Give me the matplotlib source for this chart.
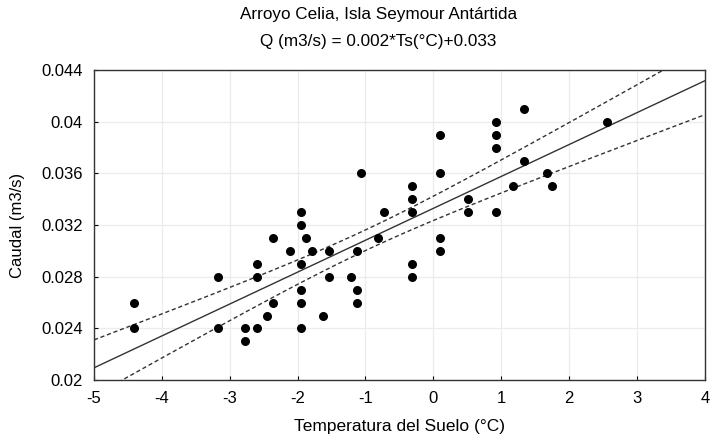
import numpy as np
import matplotlib
matplotlib.use("Agg")
import matplotlib.pyplot as plt

plt.rcParams['font.family'] = ['Liberation Sans', 'DejaVu Sans']

# Soil temperature (°C) and stream discharge (m3/s)
temperatura = [
    -4.41, -4.41,
    -3.18, -3.18,
    -2.77, -2.77,
    -2.60, -2.60, -2.60,
    -2.45,
    -2.36, -2.36,
    -2.11,
    -1.95, -1.95, -1.95, -1.95, -1.95, -1.95,
    -1.88, -1.79, -1.62,
    -1.54, -1.54,
    -1.22,
    -1.12, -1.12, -1.12,
    -1.06,
    -0.81, -0.72,
    -0.31, -0.31, -0.31, -0.31, -0.31,
    0.10, 0.10, 0.10, 0.10,
    0.51, 0.51,
    0.92, 0.92, 0.92, 0.92,
    1.17,
    1.33, 1.33,
    1.67, 1.75,
    2.56,
]
caudal = [
    0.026, 0.024,
    0.028, 0.024,
    0.024, 0.023,
    0.029, 0.028, 0.024,
    0.025,
    0.031, 0.026,
    0.030,
    0.033, 0.032, 0.029, 0.027, 0.026, 0.024,
    0.031, 0.030, 0.025,
    0.030, 0.028,
    0.028,
    0.030, 0.027, 0.026,
    0.036,
    0.031, 0.033,
    0.035, 0.034, 0.033, 0.029, 0.028,
    0.039, 0.036, 0.031, 0.030,
    0.034, 0.033,
    0.040, 0.039, 0.038, 0.033,
    0.035,
    0.041, 0.037,
    0.036, 0.035,
    0.040,
]

x_ticks = [-5, -4, -3, -2, -1, 0, 1, 2, 3, 4]
y_ticks = [0.02, 0.024, 0.028, 0.032, 0.036, 0.04, 0.044]
y_ticklabels = ["0.02", "0.024", "0.028", "0.032", "0.036", "0.04", "0.044"]

x = np.array(temperatura)
y = np.array(caudal)

# Least-squares fit with 95% confidence band for the mean response
n = len(x)
b, a = np.polyfit(x, y, 1)
resid = y - (a + b * x)
s = np.sqrt(np.sum(resid ** 2) / (n - 2))
sxx = np.sum((x - x.mean()) ** 2)
t_crit = 2.005
xs = np.linspace(-5, 4, 200)
ys = a + b * xs
half = t_crit * s * np.sqrt(1.0 / n + (xs - x.mean()) ** 2 / sxx)

fig = plt.figure(figsize=(7.12, 4.41), dpi=100)
ax = fig.add_axes([0.132, 0.138, 0.858, 0.703])

ax.grid(True, color="#ececec", linewidth=0.9)
ax.set_axisbelow(True)

ax.plot(xs, ys, color="#333333", linewidth=1.0, zorder=2)
ax.plot(xs, ys + half, color="#333333", linewidth=1.0, linestyle=(0, (3, 2)), zorder=2)
ax.plot(xs, ys - half, color="#333333", linewidth=1.0, linestyle=(0, (3, 2)), zorder=2)
ax.scatter(x, y, s=30, color="black", zorder=3, clip_on=False)

ax.set_xlim(-5, 4)
ax.set_ylim(0.02, 0.044)
ax.set_xticks(x_ticks)
ax.set_xticklabels([str(v) for v in x_ticks])
ax.set_yticks(y_ticks)
ax.set_yticklabels(y_ticklabels)
ax.tick_params(direction="in", length=3, width=0.8, labelsize=12, colors="black", pad=8)
for sp in ax.spines.values():
    sp.set_linewidth(1.0)
    sp.set_color("#333333")

ax.set_xlabel("Temperatura del Suelo (°C)", fontsize=12.5, labelpad=9)
ax.set_ylabel("Caudal (m3/s)", fontsize=12)
ax.yaxis.set_label_coords(-0.113, 0.5)

fig.text(0.531, 0.966, "Arroyo Celia, Isla Seymour Antártida", ha="center", va="center",
         fontsize=12.3)
fig.text(0.531, 0.907, "Q (m3/s) = 0.002*Ts(°C)+0.033", ha="center", va="center",
         fontsize=12.3)

fig.savefig("out.png", dpi=100)
